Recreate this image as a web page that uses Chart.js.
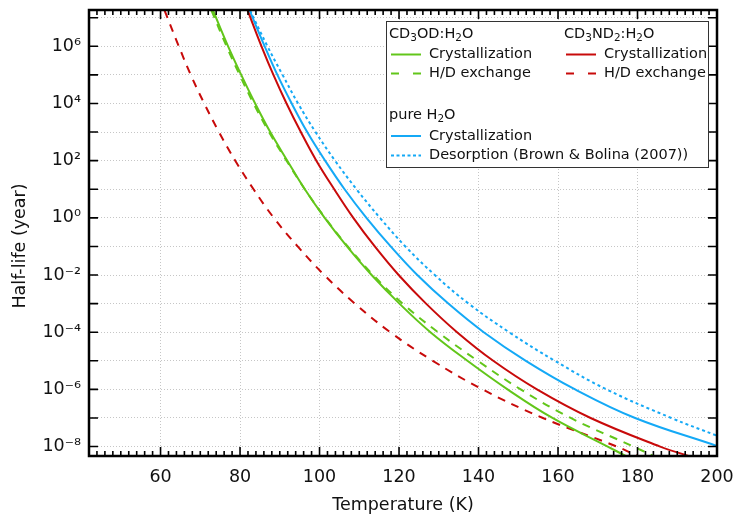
<!DOCTYPE html>
<html>
<head>
<meta charset="utf-8">
<script src="https://cdn.jsdelivr.net/npm/chart.js@4.4.0/dist/chart.umd.min.js"></script>
<style>
  html, body { margin: 0; padding: 0; background: #fff; }
</style>
</head>
<body>
<canvas id="chart1" width="733" height="523"></canvas>
<script>
// half-life steps where the curves were read (top edge, each decade, bottom edge)
const lifeToBottom = [1.82e7, 1e6, 1e5, 1e4, 1e3, 1e2, 1e1, 1, 1e-1, 1e-2, 1e-3, 1e-4, 1e-5, 1e-6, 1e-7, 1e-8, 4.7e-9];
const waterCrystLife = [1.82e7, 1e6, 1e5, 1e4, 1e3, 1e2, 1e1, 1, 1e-1, 1e-2, 1e-3, 1e-4, 1e-5, 1e-6, 1e-7, 1.05e-8];
const waterDesorbLife = [1.82e7, 1e6, 1e5, 1e4, 1e3, 1e2, 1e1, 1, 1e-1, 1e-2, 1e-3, 1e-4, 1e-5, 1e-6, 1e-7, 2.4e-8];

// temperatures (K) of each curve at those half-lives
const cd3odCrystTemp = [73.2, 77.0, 80.3, 83.8, 87.6, 91.9, 96.3, 101.3, 106.9, 113.1, 120.1, 127.9, 137.2, 147.3, 158.6, 172.5, 177.0];
const cd3odExchTemp = [72.8, 76.6, 79.9, 83.4, 87.3, 91.7, 96.3, 101.4, 107.1, 113.5, 120.9, 129.8, 139.8, 150.6, 163.2, 179.0, 184.0];
const cd3nd2CrystTemp = [81.9, 85.4, 88.4, 91.7, 95.3, 99.2, 103.7, 108.5, 113.9, 119.9, 126.8, 134.6, 143.7, 154.7, 168.2, 185.7, 192.8];
const cd3nd2ExchTemp = [61.0, 64.6, 67.6, 71.0, 74.7, 78.8, 83.4, 88.5, 94.5, 101.2, 108.9, 117.8, 128.5, 141.0, 156.2, 174.8, 180.0];
const waterCrystTemp = [82.4, 86.2, 89.4, 93.0, 96.9, 101.4, 106.3, 111.8, 117.9, 124.6, 132.4, 141.3, 151.9, 164.3, 179.4, 200];
const waterDesorbTemp = [82.5, 86.9, 90.7, 94.6, 99.0, 103.9, 109.3, 115.2, 121.6, 129.0, 137.5, 147.7, 159.2, 172.2, 188.5, 200];

// axes
const xMin = 42, xMax = 200;
const xTickValues = [60, 80, 100, 120, 140, 160, 180, 200];
const yMin = 4.68e-9, yMax = 1.86e7;
const yExponents = [-8, -7, -6, -5, -4, -3, -2, -1, 0, 1, 2, 3, 4, 5, 6, 7];

const GREEN = '#62c61a', RED = '#c80a0a', BLUE = '#14a9f6';
const FONT = '"DejaVu Sans", sans-serif';

function pts(temps, lives) {
    return temps.map((t, i) => ({ x: t, y: lives[i] }));
}

const supDigits = { '0': '⁰', '1': '¹', '2': '²', '3': '³', '4': '⁴', '5': '⁵', '6': '⁶', '7': '⁷', '8': '⁸', '9': '⁹', '-': '⁻' };
function powerLabel(e) {
    return '10' + String(e).split('').map(c => supDigits[c]).join('');
}

// text with subscripts: [text, isSub]
function richText(ctx, parts, x, y, size) {
    let cx = x;
    parts.forEach(([s, sub]) => {
        ctx.font = (sub ? size * 0.72 : size) + 'px ' + FONT;
        ctx.fillText(s, cx, sub ? y + size * 0.32 : y);
        cx += ctx.measureText(s).width;
    });
}

const legendHeaders = [
    { parts: [['CD', 0], ['3', 1], ['OD:H', 0], ['2', 1], ['O', 0]], col: 0, dy: 13 },
    { parts: [['CD', 0], ['3', 1], ['ND', 0], ['2', 1], [':H', 0], ['2', 1], ['O', 0]], col: 1, dy: 13 },
    { parts: [['pure H', 0], ['2', 1], ['O', 0]], col: 0, dy: 94 }
];
const legendItems = [
    { ds: 0, col: 0, dy: 33.5 },
    { ds: 1, col: 0, dy: 52.5 },
    { ds: 2, col: 1, dy: 33.5 },
    { ds: 3, col: 1, dy: 52.5 },
    { ds: 4, col: 0, dy: 115 },
    { ds: 5, col: 0, dy: 134.5 }
];

const framePlugin = {
    id: 'frame',
    afterDatasetsDraw(chart) {
        const { ctx, chartArea: a, scales: { x, y } } = chart;
        ctx.save();
        ctx.strokeStyle = '#000';
        ctx.lineWidth = 1.6;
        ctx.beginPath();
        for (let t = xMin; t <= xMax; t += 2) {
            const px = x.getPixelForValue(t);
            const len = t % 20 === 0 ? 9 : 5;
            ctx.moveTo(px, a.bottom); ctx.lineTo(px, a.bottom - len);
            ctx.moveTo(px, a.top); ctx.lineTo(px, a.top + len);
        }
        yExponents.forEach(e => {
            const py = y.getPixelForValue(Math.pow(10, e));
            ctx.moveTo(a.left, py); ctx.lineTo(a.left + 9, py);
            ctx.moveTo(a.right, py); ctx.lineTo(a.right - 9, py);
        });
        ctx.stroke();
        ctx.lineWidth = 2.5;
        ctx.strokeRect(a.left, a.top, a.right - a.left, a.bottom - a.top);

        // legend
        const box = { x: 386, y: 21, w: 322, h: 146 };
        const colX = [box.x + 3, box.x + 178];
        ctx.fillStyle = '#fff';
        ctx.fillRect(box.x, box.y, box.w, box.h);
        ctx.lineWidth = 1;
        ctx.strokeStyle = '#333';
        ctx.strokeRect(box.x + 0.5, box.y + 0.5, box.w, box.h);
        ctx.fillStyle = '#111';
        ctx.textBaseline = 'middle';
        ctx.textAlign = 'left';
        legendHeaders.forEach(h => richText(ctx, h.parts, colX[h.col], box.y + h.dy, 14.5));
        legendItems.forEach(it => {
            const ds = chart.data.datasets[it.ds];
            const ly = box.y + it.dy;
            const lx = colX[it.col] + 2;
            ctx.strokeStyle = ds.borderColor;
            ctx.lineWidth = 2;
            ctx.setLineDash(ds.legendDash);
            ctx.beginPath();
            ctx.moveTo(lx, ly); ctx.lineTo(lx + 30, ly);
            ctx.stroke();
            ctx.setLineDash([]);
            ctx.fillStyle = '#111';
            ctx.font = '14.5px ' + FONT;
            ctx.fillText(ds.label, lx + 38, ly);
        });

        // y axis title
        ctx.translate(20, 246);
        ctx.rotate(-Math.PI / 2);
        ctx.textAlign = 'center';
        ctx.font = '17.5px ' + FONT;
        ctx.fillText('Half-life (year)', 0, 0);
        ctx.restore();
    }
};

function initializeChart() {
    const ctx = document.getElementById('chart1').getContext('2d');
    new Chart(ctx, {
        type: 'line',
        data: {
            datasets: [
                { label: 'Crystallization', data: pts(cd3odCrystTemp, lifeToBottom), borderColor: GREEN, borderDash: [], legendDash: [] },
                { label: 'H/D exchange', data: pts(cd3odExchTemp, lifeToBottom), borderColor: GREEN, borderDash: [8, 7], legendDash: [8, 14] },
                { label: 'Crystallization', data: pts(cd3nd2CrystTemp, lifeToBottom), borderColor: RED, borderDash: [], legendDash: [] },
                { label: 'H/D exchange', data: pts(cd3nd2ExchTemp, lifeToBottom), borderColor: RED, borderDash: [8, 7], legendDash: [8, 14] },
                { label: 'Crystallization', data: pts(waterCrystTemp, waterCrystLife), borderColor: BLUE, borderDash: [], legendDash: [] },
                { label: 'Desorption (Brown & Bolina (2007))', data: pts(waterDesorbTemp, waterDesorbLife), borderColor: BLUE, borderDash: [3, 3], legendDash: [3, 2.5] }
            ]
        },
        options: {
            responsive: false,
            animation: false,
            devicePixelRatio: 1,
            layout: { padding: { top: 10, right: 0, left: 0, bottom: 0 } },
            plugins: { legend: { display: false }, tooltip: { enabled: false } },
            elements: {
                point: { radius: 0 },
                line: { borderWidth: 2, tension: 0.4, fill: false }
            },
            scales: {
                x: {
                    type: 'linear',
                    min: xMin,
                    max: xMax,
                    afterBuildTicks: s => { s.ticks = xTickValues.map(v => ({ value: v })); },
                    afterFit: s => { s.height = 67; s.paddingLeft = 0; s.paddingRight = 16; },
                    ticks: { font: { family: FONT, size: 17.5 }, color: '#111', padding: 11, maxRotation: 0, autoSkip: false },
                    grid: { color: '#c6c6c6', lineWidth: 1, drawTicks: false },
                    border: { display: false, dash: [1, 2] },
                    title: { display: true, text: 'Temperature (K)', font: { family: FONT, size: 17.5 }, color: '#111', padding: { top: 0, bottom: 7 } }
                },
                y: {
                    type: 'logarithmic',
                    min: yMin,
                    max: yMax,
                    afterBuildTicks: s => { s.ticks = yExponents.map(e => ({ value: Math.pow(10, e) })); },
                    afterFit: s => { s.width = 89; s.paddingTop = 0; s.paddingBottom = 0; },
                    ticks: {
                        font: { family: FONT, size: 17.5 },
                        color: '#111',
                        padding: 8,
                        autoSkip: false,
                        callback: v => {
                            const e = Math.round(Math.log10(v));
                            return e % 2 === 0 ? powerLabel(e) : '';
                        }
                    },
                    grid: { color: '#c6c6c6', lineWidth: 1, drawTicks: false },
                    border: { display: false, dash: [1, 2] }
                }
            }
        },
        plugins: [framePlugin]
    });
}

window.onload = initializeChart;
</script>
</body>
</html>
